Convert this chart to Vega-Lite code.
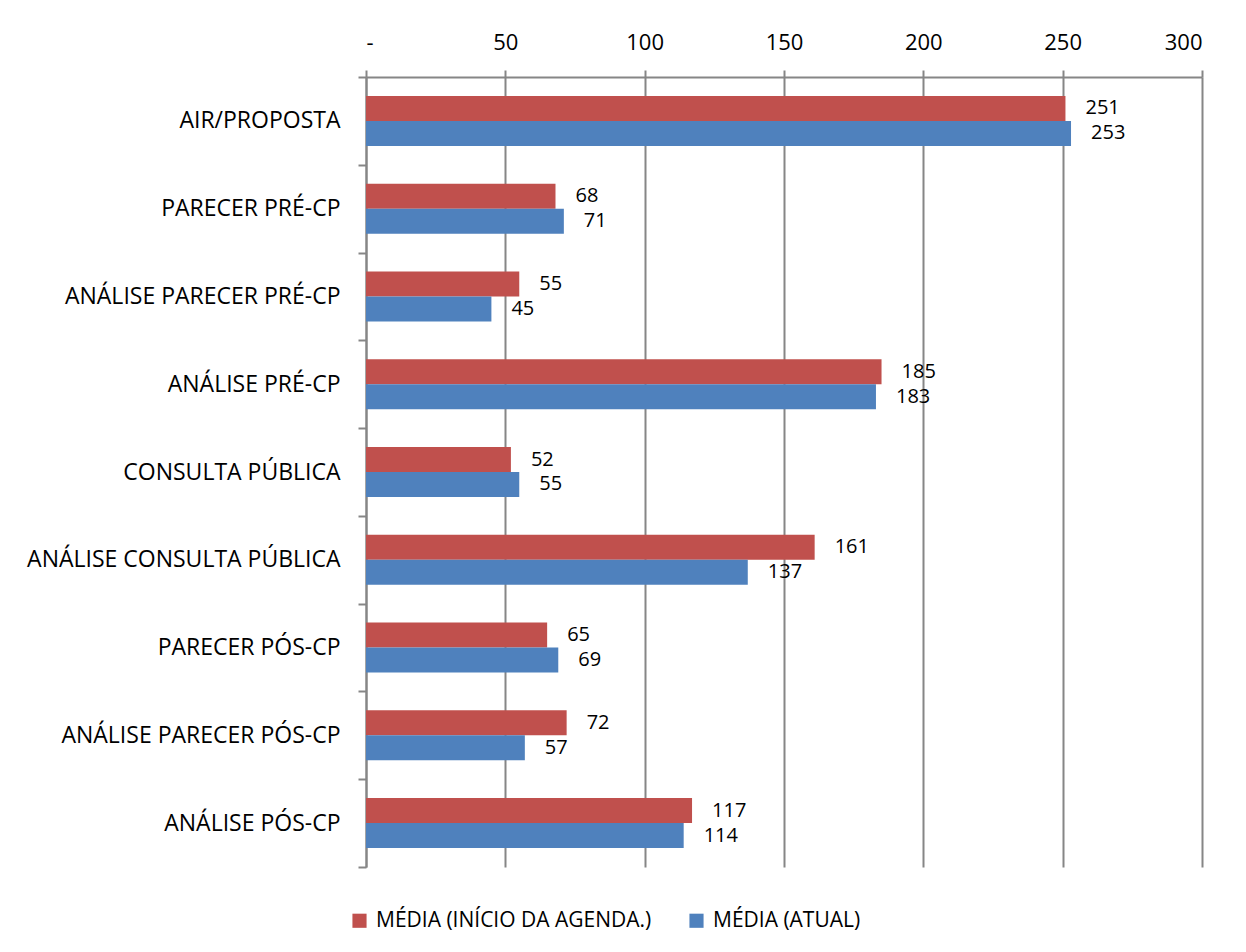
{
  "$schema": "https://vega.github.io/schema/vega-lite/v6.json",
  "autosize": {"type": "none"},
  "padding": {"left": 366, "top": 77, "right": 44, "bottom": 85},
  "width": 836,
  "height": 790,
  "background": "white",
  "config": {
    "view": {"stroke": null},
    "font": "Open Sans",
    "axis": {"labelFont": "Open Sans", "labelColor": "#000000", "titleColor": "#000000"},
    "legend": {"labelFont": "Open Sans", "labelColor": "#000000"}
  },
  "data": {
    "values": [
      {"etapa": "AIR/PROPOSTA", "serie": "MÉDIA (INÍCIO DA AGENDA.)", "valor": 251},
      {"etapa": "AIR/PROPOSTA", "serie": "MÉDIA (ATUAL)", "valor": 253},
      {"etapa": "PARECER PRÉ-CP", "serie": "MÉDIA (INÍCIO DA AGENDA.)", "valor": 68},
      {"etapa": "PARECER PRÉ-CP", "serie": "MÉDIA (ATUAL)", "valor": 71},
      {"etapa": "ANÁLISE PARECER PRÉ-CP", "serie": "MÉDIA (INÍCIO DA AGENDA.)", "valor": 55},
      {"etapa": "ANÁLISE PARECER PRÉ-CP", "serie": "MÉDIA (ATUAL)", "valor": 45},
      {"etapa": "ANÁLISE PRÉ-CP", "serie": "MÉDIA (INÍCIO DA AGENDA.)", "valor": 185},
      {"etapa": "ANÁLISE PRÉ-CP", "serie": "MÉDIA (ATUAL)", "valor": 183},
      {"etapa": "CONSULTA PÚBLICA", "serie": "MÉDIA (INÍCIO DA AGENDA.)", "valor": 52},
      {"etapa": "CONSULTA PÚBLICA", "serie": "MÉDIA (ATUAL)", "valor": 55},
      {"etapa": "ANÁLISE CONSULTA PÚBLICA", "serie": "MÉDIA (INÍCIO DA AGENDA.)", "valor": 161},
      {"etapa": "ANÁLISE CONSULTA PÚBLICA", "serie": "MÉDIA (ATUAL)", "valor": 137},
      {"etapa": "PARECER PÓS-CP", "serie": "MÉDIA (INÍCIO DA AGENDA.)", "valor": 65},
      {"etapa": "PARECER PÓS-CP", "serie": "MÉDIA (ATUAL)", "valor": 69},
      {"etapa": "ANÁLISE PARECER PÓS-CP", "serie": "MÉDIA (INÍCIO DA AGENDA.)", "valor": 72},
      {"etapa": "ANÁLISE PARECER PÓS-CP", "serie": "MÉDIA (ATUAL)", "valor": 57},
      {"etapa": "ANÁLISE PÓS-CP", "serie": "MÉDIA (INÍCIO DA AGENDA.)", "valor": 117},
      {"etapa": "ANÁLISE PÓS-CP", "serie": "MÉDIA (ATUAL)", "valor": 114}
    ]
  },
  "encoding": {
    "y": {
      "field": "etapa",
      "type": "nominal",
      "sort": null,
      "scale": {"paddingInner": 0, "paddingOuter": 0},
      "axis": {
        "title": null,
        "tickBand": "extent",
        "tickSize": 8,
        "tickColor": "#868686",
        "tickWidth": 2,
        "domainColor": "#868686",
        "domainWidth": 2,
        "labelFontSize": 23,
        "labelLimit": 0,
        "labelPadding": 18,
        "grid": false
      }
    },
    "yOffset": {
      "field": "serie",
      "type": "nominal",
      "sort": ["MÉDIA (INÍCIO DA AGENDA.)", "MÉDIA (ATUAL)"],
      "scale": {"paddingInner": 0, "paddingOuter": 0.756}
    },
    "x": {
      "field": "valor",
      "type": "quantitative",
      "scale": {"domain": [0, 300], "nice": false},
      "axis": {
        "orient": "top",
        "title": null,
        "values": [0, 50, 100, 150, 200, 250, 300],
        "labelExpr": "datum.value == 0 ? '-' : datum.label",
        "grid": true,
        "gridColor": "#868686",
        "gridWidth": 2,
        "tickSize": 7,
        "tickColor": "#868686",
        "tickWidth": 2,
        "domainColor": "#868686",
        "domainWidth": 2,
        "labelFontSize": 22,
        "labelPadding": 16
      }
    }
  },
  "layer": [
    {
      "mark": {"type": "bar"},
      "encoding": {
        "color": {
          "field": "serie",
          "type": "nominal",
          "sort": ["MÉDIA (INÍCIO DA AGENDA.)", "MÉDIA (ATUAL)"],
          "scale": {"domain": ["MÉDIA (INÍCIO DA AGENDA.)", "MÉDIA (ATUAL)"], "range": ["#C0504D", "#4F81BD"]},
          "legend": {
            "title": null,
            "orient": "none",
            "direction": "horizontal",
            "legendX": -17,
            "legendY": 833,
            "symbolType": "square",
            "symbolSize": 200,
            "symbolStrokeWidth": 0,
            "labelFontSize": 21,
            "labelLimit": 0,
            "labelOffset": 6,
            "columnPadding": 34
          }
        }
      }
    },
    {
      "mark": {"type": "text", "align": "left", "baseline": "middle", "dx": 20, "fontSize": 20, "font": "Open Sans", "color": "#000000"},
      "encoding": {
        "text": {"field": "valor", "type": "quantitative"}
      }
    }
  ]
}
